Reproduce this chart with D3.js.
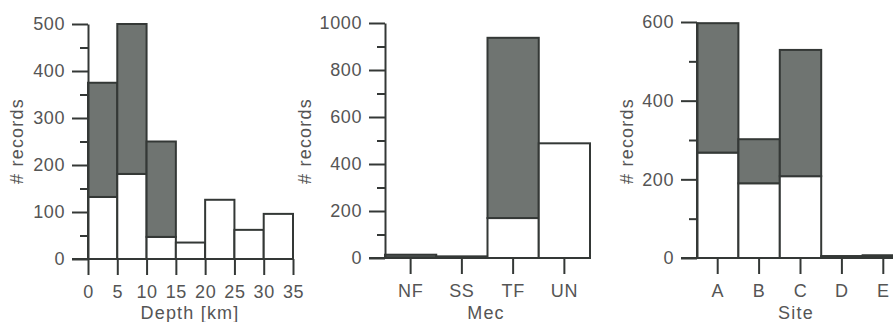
<!DOCTYPE html>
<html>
<head>
<meta charset="utf-8">
<script src="https://d3js.org/d3.v7.min.js"></script>
<style>
    body { margin: 0; background: #fff; }
    text { font-family: "Liberation Sans", Arial, sans-serif; fill: #555; }
    .tick text { font-size: 18px; letter-spacing: 0.6px; }
    .title { font-size: 18px; letter-spacing: 1.2px; }
</style>
</head>
<body>
<script>
// depth histogram (bin edges in km)
var depthEdges = [0, 5, 10, 15, 20, 25, 30, 35];
var depthWhite = [132, 181, 47, 35, 126, 62, 96];
var depthTotal = [375, 500, 250, 35, 126, 62, 96];

// mechanism
var mecCats = ["NF", "SS", "TF", "UN"];
var mecWhite = [3, 2, 170, 488];
var mecTotal = [14, 7, 937, 488];

// site class
var siteCats = ["A", "B", "C", "D", "E"];
var siteWhite = [268, 190, 208, 2, 3];
var siteTotal = [597, 302, 529, 5, 7];

var width = 893, height = 322;
var lineCol = "#343836", grayFill = "#6f7471";

var svg = d3.select("body").append("svg")
    .attr("width", width)
    .attr("height", height);

function yAxis(g, y, x0, max, step) {
    var major = d3.range(0, max + 1, step);
    var minor = d3.range(step / 2, max, step);
    g.append("g")
        .attr("transform", "translate(" + x0 + ",0)")
        .call(d3.axisLeft(y).tickValues(minor).tickSize(8).tickFormat(""))
        .call(a => a.select(".domain").remove());
    g.append("g")
        .attr("transform", "translate(" + x0 + ",0)")
        .call(d3.axisLeft(y).tickValues(major).tickSize(16).tickPadding(7)
            .tickSizeOuter(0).tickFormat(d3.format("d")));
    g.selectAll(".tick line, .domain").attr("stroke", lineCol).attr("stroke-width", 2);
}

function panel(opt) {
    var g = svg.append("g");
    var y = d3.scaleLinear().domain([0, opt.max]).range([opt.y0, opt.y1]);

    // bars: white lower part, gray upper part
    var bars = g.append("g");
    opt.total.forEach(function (t, i) {
        var x0 = opt.left(i), x1 = opt.right(i);
        bars.append("rect")
            .attr("x", x0).attr("width", x1 - x0)
            .attr("y", y(opt.white[i])).attr("height", y(0) - y(opt.white[i]))
            .attr("fill", "#fff").attr("stroke", lineCol).attr("stroke-width", 2);
        if (t > opt.white[i]) {
            bars.append("rect")
                .attr("x", x0).attr("width", x1 - x0)
                .attr("y", y(t)).attr("height", y(opt.white[i]) - y(t))
                .attr("fill", grayFill).attr("stroke", lineCol).attr("stroke-width", 2);
        }
    });

    yAxis(g, y, opt.axisX, opt.max, opt.step);

    // baseline
    g.append("line")
        .attr("x1", opt.axisX - 16).attr("x2", opt.xEnd)
        .attr("y1", y(0)).attr("y2", y(0))
        .attr("stroke", lineCol).attr("stroke-width", 2);

    // x axis ticks
    var xa = g.append("g")
        .attr("transform", "translate(0," + y(0) + ")")
        .call(opt.xAxis.tickSize(16).tickPadding(10));
    xa.select(".domain").remove();
    xa.selectAll(".tick line").attr("stroke", lineCol).attr("stroke-width", 2);

    g.append("text").attr("class", "title")
        .attr("x", opt.titleX).attr("y", 319)
        .attr("text-anchor", "middle")
        .text(opt.title);

    g.append("text").attr("class", "title")
        .attr("transform", "translate(" + opt.ylabX + ",141) rotate(-90)")
        .attr("text-anchor", "middle")
        .text("# records");
}

// panel 1: depth
var xDepth = d3.scaleLinear().domain([0, 35]).range([88, 293]);
panel({
    max: 500, step: 100, y0: 259, y1: 24,
    white: depthWhite, total: depthTotal,
    left: i => xDepth(depthEdges[i]), right: i => xDepth(depthEdges[i + 1]),
    axisX: 88, xEnd: 293,
    xAxis: d3.axisBottom(xDepth).tickValues(depthEdges),
    title: "Depth [km]", titleX: 190, ylabX: 23
});

// panel 2: mechanism
var xMec = d3.scaleBand().domain(mecCats).range([385, 590]);
panel({
    max: 1000, step: 200, y0: 258, y1: 23,
    white: mecWhite, total: mecTotal,
    left: i => xMec(mecCats[i]), right: i => xMec(mecCats[i]) + xMec.bandwidth(),
    axisX: 385, xEnd: 590,
    xAxis: d3.axisBottom(xMec),
    title: "Mec", titleX: 486, ylabX: 311
});

// panel 3: site
var xSite = d3.scaleBand().domain(siteCats).range([697, 904]);
panel({
    max: 600, step: 200, y0: 258, y1: 22,
    white: siteWhite, total: siteTotal,
    left: i => xSite(siteCats[i]), right: i => xSite(siteCats[i]) + xSite.bandwidth(),
    axisX: 697, xEnd: 904,
    xAxis: d3.axisBottom(xSite),
    title: "Site", titleX: 796, ylabX: 633
});
</script>
</body>
</html>
